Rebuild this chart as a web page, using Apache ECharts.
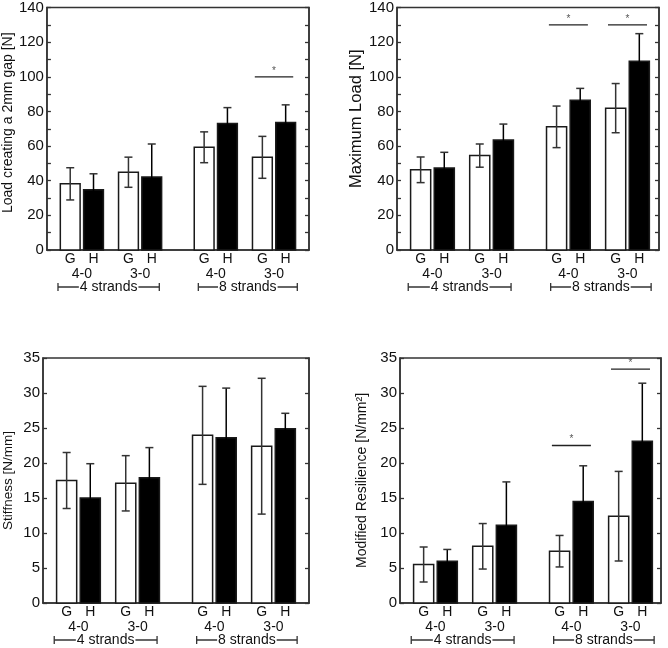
<!DOCTYPE html>
<html>
<head>
<meta charset="utf-8">
<title>Suture strength</title>
<script src="https://cdn.jsdelivr.net/npm/echarts@6/dist/echarts.min.js"></script>
<style>
  html, body { margin: 0; padding: 0; background: #fff; }
  #main { width: 668px; height: 648px; }
</style>
</head>
<body>
<div id="main"></div>
<script>
// x positions (axis units) of the G/H pairs, and the labels under them
const pairPos = [0.6, 1.6, 2.9, 3.9];
const groupLabels = ['G', 'H'];
const sizeLabels = ['4-0', '3-0', '4-0', '3-0'];
const strandLabels = ['4 strands', '8 strands'];
const strandSpan = [[0.19, 1.93], [2.6, 4.3]];

// load creating a 2mm gap [N]
const gapG = [38.2, 44.9, 59.3, 53.5];
const gapGErr = [9.3, 8.7, 8.9, 12.1];
const gapH = [34.8, 42.1, 73.1, 73.6];
const gapHErr = [9.2, 19.1, 9.1, 10.2];
const gapSig = [[3, 100]];

// maximum load [N]
const maxG = [46.3, 54.5, 71.1, 81.9];
const maxGErr = [7.4, 6.7, 12.0, 14.2];
const maxH = [47.4, 63.5, 86.4, 109.0];
const maxHErr = [9.0, 9.2, 6.9, 15.9];
const maxSig = [[2, 130], [3, 130]];

// stiffness [N/mm]
const stiffG = [17.5, 17.1, 23.95, 22.4];
const stiffGErr = [4.0, 3.95, 7.0, 9.7];
const stiffH = [15.0, 17.9, 23.6, 24.9];
const stiffHErr = [4.9, 4.3, 7.1, 2.2];
const stiffSig = [];

// modified resilience [N/mm2]
const resG = [5.5, 8.1, 7.4, 12.4];
const resGErr = [2.5, 3.25, 2.25, 6.4];
const resH = [5.95, 11.1, 14.5, 23.1];
const resHErr = [1.7, 6.2, 5.1, 8.3];
const resSig = [[2, 22.5], [3, 33.4]];

const panels = [
  { name: 'Load creating a 2mm gap [N]', max: 140, step: 10, labelStep: 20, g: gapG, gErr: gapGErr, h: gapH, hErr: gapHErr, sig: gapSig,
    grid: { left: 43, top: 6, width: 266, height: 244 }, nameSize: 14, nameGap: 29, nameShift: 12 },
  { name: 'Maximum Load [N]', max: 140, step: 10, labelStep: 20, g: maxG, gErr: maxGErr, h: maxH, hErr: maxHErr, sig: maxSig,
    grid: { left: 397, top: 6, width: 262, height: 244 }, nameSize: 16.5, nameGap: 28, nameShift: 20 },
  { name: 'Stiffness [N/mm]', max: 35, step: 5, labelStep: 5, g: stiffG, gErr: stiffGErr, h: stiffH, hErr: stiffHErr, sig: stiffSig,
    grid: { left: 43, top: 358, width: 266, height: 245 }, nameSize: 13.5, nameGap: 28, nameShift: 0 },
  { name: 'Modified Resilience [N/mm\u00b2]', max: 35, step: 5, labelStep: 5, g: resG, gErr: resGErr, h: resH, hErr: resHErr, sig: resSig,
    grid: { left: 400, top: 358, width: 261, height: 245 }, nameSize: 14, nameGap: 31, nameShift: 0 }
];

const font = "'Liberation Sans', Arial, sans-serif";
const ink = '#111';
const pxPerUnit = 59.1;
const barW = 0.34;
const offset = 0.2;

function renderBar (params, api) {
  const x = api.value(0), v = api.value(1), e = api.value(2), kind = api.value(3);
  const w = api.size([barW, 0])[0];
  const top = api.coord([x, v]);
  const base = api.coord([x, 0]);
  const hi = api.coord([x, v + e]);
  const lo = api.coord([x, v - e]);
  const errColor = kind ? '#000' : '#333';
  const cap = 4;
  return {
    type: 'group',
    children: [
      { type: 'rect', shape: { x: top[0] - w / 2, y: top[1], width: w, height: base[1] - top[1] },
        style: { fill: kind ? '#000' : '#fff', stroke: '#1a1a1a', lineWidth: 1.5 } },
      { type: 'line', shape: { x1: hi[0], y1: hi[1], x2: lo[0], y2: lo[1] }, style: { stroke: errColor, lineWidth: 1.5 } },
      { type: 'line', shape: { x1: hi[0] - cap, y1: hi[1], x2: hi[0] + cap, y2: hi[1] }, style: { stroke: '#333', lineWidth: 1.5 } },
      { type: 'line', shape: { x1: lo[0] - cap, y1: lo[1], x2: lo[0] + cap, y2: lo[1] }, style: { stroke: errColor, lineWidth: 1.5 } }
    ]
  };
}

// G/H and size labels under the axis
const labelItems = [];
pairPos.forEach((p, i) => {
  labelItems.push({ x: p - offset, dy: 9, text: groupLabels[0] });
  labelItems.push({ x: p + offset, dy: 9, text: groupLabels[1] });
  labelItems.push({ x: p, dy: 24, text: sizeLabels[i] });
});

function renderLabel (params, api) {
  const item = labelItems[params.dataIndex];
  const pt = api.coord([item.x, 0]);
  return {
    type: 'text',
    x: pt[0], y: pt[1] + item.dy,
    style: { text: item.text, fill: ink, font: '14px ' + font, align: 'center', verticalAlign: 'middle' }
  };
}

function renderStrand (params, api) {
  const a = api.coord([api.value(0), 0]);
  const b = api.coord([api.value(1), 0]);
  const y = a[1] + 37;
  return {
    type: 'group',
    children: [
      { type: 'line', shape: { x1: a[0], y1: y, x2: b[0], y2: y }, style: { stroke: '#333', lineWidth: 1.3 } },
      { type: 'line', shape: { x1: a[0], y1: y - 4, x2: a[0], y2: y + 4 }, style: { stroke: '#333', lineWidth: 1.3 } },
      { type: 'line', shape: { x1: b[0], y1: y - 4, x2: b[0], y2: y + 4 }, style: { stroke: '#333', lineWidth: 1.3 } },
      { type: 'text', x: (a[0] + b[0]) / 2, y: y,
        style: { text: strandLabels[params.dataIndex], fill: ink, font: '14px ' + font, align: 'center', verticalAlign: 'middle',
          backgroundColor: '#fff', padding: [0, 1] } }
    ]
  };
}

function renderSig (params, api) {
  const p = api.value(0);
  const a = api.coord([p - 0.33, api.value(1)]);
  const b = api.coord([p + 0.33, api.value(1)]);
  return {
    type: 'group',
    children: [
      { type: 'line', shape: { x1: a[0], y1: a[1], x2: b[0], y2: b[1] }, style: { stroke: '#222', lineWidth: 1.3 } },
      { type: 'text', x: (a[0] + b[0]) / 2, y: a[1] - 1,
        style: { text: '*', fill: '#555', font: '10px ' + font, align: 'center', verticalAlign: 'bottom' } }
    ]
  };
}

const option = {
  animation: false,
  backgroundColor: '#fff',
  grid: [],
  xAxis: [],
  yAxis: [],
  series: []
};

panels.forEach((pn, i) => {
  option.grid.push(Object.assign({ show: true, borderColor: '#333', borderWidth: 1.5, backgroundColor: 'transparent' }, pn.grid));
  option.xAxis.push({
    type: 'value', gridIndex: i, min: 0, max: pn.grid.width / pxPerUnit,
    axisLine: { show: true, lineStyle: { color: '#333', width: 1.5 } },
    axisTick: { show: false }, axisLabel: { show: false }, splitLine: { show: false }
  });
  const yBase = {
    type: 'value', gridIndex: i, min: 0, max: pn.max, interval: pn.step,
    axisLine: { show: true, lineStyle: { color: '#333', width: 1.5 } },
    axisTick: { show: true, inside: true, length: 4, lineStyle: { color: '#333', width: 1.3 } },
    splitLine: { show: false }
  };
  option.yAxis.push(Object.assign({}, yBase, {
    position: 'left',
    name: pn.name, nameLocation: 'middle', nameGap: pn.nameGap,
    nameTextStyle: { color: ink, fontSize: pn.nameSize, fontFamily: font, padding: [0, 0, 0, pn.nameShift] },
    axisLabel: {
      color: ink, fontSize: 15, fontFamily: font, margin: 3,
      formatter: v => (v % pn.labelStep === 0 ? String(v) : '')
    }
  }));
  option.yAxis.push(Object.assign({}, yBase, { position: 'right', axisLabel: { show: false } }));

  const rows = [];
  pairPos.forEach((p, k) => {
    rows.push([p - offset, pn.g[k], pn.gErr[k], 0]);
    rows.push([p + offset, pn.h[k], pn.hErr[k], 1]);
  });
  option.series.push({
    type: 'custom', xAxisIndex: i, yAxisIndex: i * 2, renderItem: renderBar, data: rows, clip: false, silent: true
  });
  option.series.push({
    type: 'custom', xAxisIndex: i, yAxisIndex: i * 2, renderItem: renderLabel,
    data: labelItems.map(d => [d.x, 0]), clip: false, silent: true
  });
  option.series.push({
    type: 'custom', xAxisIndex: i, yAxisIndex: i * 2, renderItem: renderStrand, data: strandSpan, clip: false, silent: true
  });
  if (pn.sig.length) {
    option.series.push({
      type: 'custom', xAxisIndex: i, yAxisIndex: i * 2, renderItem: renderSig,
      data: pn.sig.map(s => [pairPos[s[0]], s[1]]), clip: false, silent: true
    });
  }
});

var chart = echarts.init(document.getElementById('main'));
chart.setOption(option);
window.addEventListener('resize', () => {
  chart.resize();
});
</script>
</body>
</html>
